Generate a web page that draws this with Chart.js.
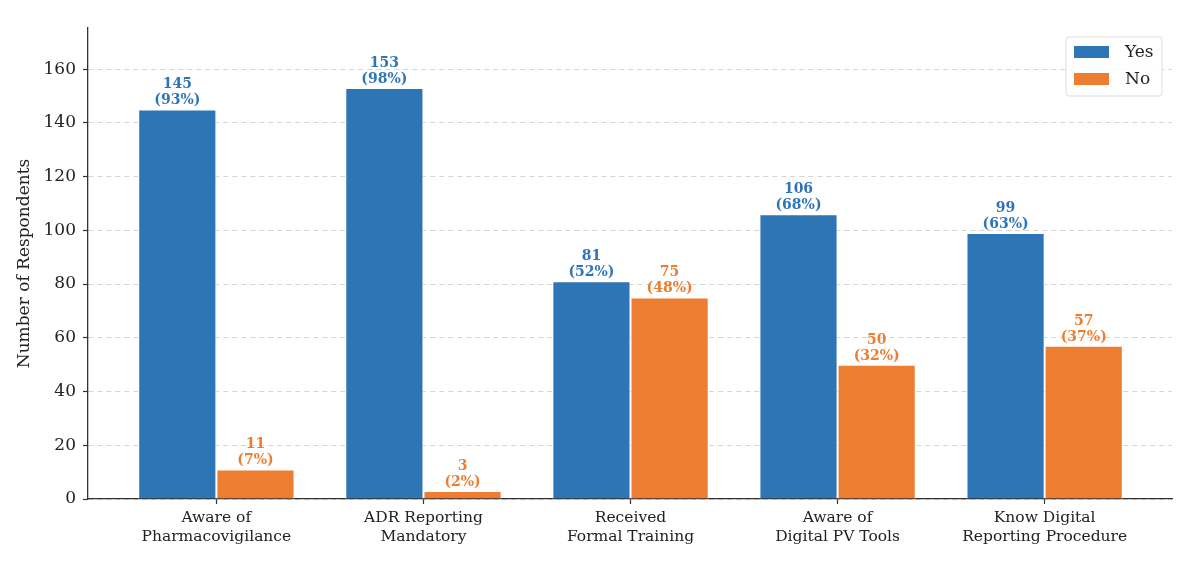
<!DOCTYPE html>
<html>
<head>
<meta charset="utf-8">
<script src="https://cdn.jsdelivr.net/npm/chart.js@4.4.0/dist/chart.umd.min.js"></script>
<style>
html,body{margin:0;padding:0;background:#fff;}
#wrap{width:1189px;height:561px;position:relative;}
</style>
</head>
<body>
<div id="wrap"><canvas id="c"></canvas></div>
<script>
const categories = [
  ["Aware of", "Pharmacovigilance"],
  ["ADR Reporting", "Mandatory"],
  ["Received", "Formal Training"],
  ["Aware of", "Digital PV Tools"],
  ["Know Digital", "Reporting Procedure"]
];
const yesValues = [145, 153, 81, 106, 99];
const noValues = [11, 3, 75, 50, 57];
const yesPct = [93, 98, 52, 68, 63];
const noPct = [7, 2, 48, 32, 37];
const yTicks = [0, 20, 40, 60, 80, 100, 120, 140, 160];

const BLUE = '#2e75b6';
const ORANGE = '#ed7d31';
const FONT = "'DejaVu Serif', 'Liberation Serif', serif";

const pctByDataset = [yesPct, noPct];

const labelPlugin = {
  id: 'barLabels',
  afterDatasetsDraw(chart) {
    const ctx = chart.ctx;
    ctx.save();
    ctx.font = "bold 14px " + FONT;
    ctx.textAlign = 'center';
    ctx.textBaseline = 'alphabetic';
    chart.data.datasets.forEach((ds, di) => {
      const meta = chart.getDatasetMeta(di);
      ctx.fillStyle = ds.backgroundColor;
      meta.data.forEach((el, i) => {
        const v = ds.data[i].y;
        const p = pctByDataset[di][i];
        ctx.fillText('(' + p + '%)', el.x, el.y - 5);
        ctx.fillText(String(v), el.x, el.y - 21);
      });
    });
    ctx.restore();
  }
};

const legendPlugin = {
  id: 'boxLegend',
  afterDraw(chart) {
    const ctx = chart.ctx;
    const ca = chart.chartArea;
    const w = 96, h = 59;
    const x = ca.right - 10 - w, y = ca.top + 9;
    ctx.save();
    ctx.beginPath();
    if (ctx.roundRect) ctx.roundRect(x, y, w, h, 3); else ctx.rect(x, y, w, h);
    ctx.fillStyle = 'rgba(255,255,255,0.85)';
    ctx.fill();
    ctx.strokeStyle = '#dddddd';
    ctx.lineWidth = 1;
    ctx.stroke();
    ctx.font = "17px " + FONT;
    ctx.textBaseline = 'middle';
    ctx.textAlign = 'left';
    chart.data.datasets.forEach((ds, di) => {
      const cy = y + 15 + di * 27;
      ctx.fillStyle = ds.backgroundColor;
      ctx.fillRect(x + 8, cy - 6, 35, 12);
      ctx.fillStyle = '#222';
      ctx.fillText(ds.label, x + 59, cy + 1);
    });
    ctx.restore();
  }
};

const mk = (arr) => arr.map((v, i) => ({x: i, y: v}));

new Chart(document.getElementById('c'), {
  type: 'bar',
  data: {
    datasets: [
      {label: 'Yes', data: mk(yesValues), backgroundColor: BLUE, borderColor: '#ffffff', borderWidth: 1, categoryPercentage: 0.755, barPercentage: 1.0},
      {label: 'No', data: mk(noValues), backgroundColor: ORANGE, borderColor: '#ffffff', borderWidth: 1, categoryPercentage: 0.755, barPercentage: 1.0}
    ]
  },
  options: {
    responsive: true,
    maintainAspectRatio: false,
    animation: false,
    layout: {padding: {left: 14, top: 28, right: 17, bottom: 0}},
    plugins: {legend: {display: false}, tooltip: {enabled: false}},
    scales: {
      x: {
        type: 'linear',
        min: -0.62,
        max: 4.615,
        offset: false,
        afterBuildTicks(scale) { scale.ticks = categories.map((c, i) => ({value: i})); },
        afterFit(scale) { scale.height = 62; },
        ticks: {
          callback: (v) => categories[v],
          font: {family: FONT, size: 15.5},
          color: '#222',
          padding: 5,
          maxRotation: 0,
          autoSkip: false
        },
        grid: {display: true, offset: false, drawOnChartArea: false, drawTicks: true, tickLength: 5, tickColor: '#333', tickWidth: 1.2},
        border: {display: true, color: '#333', width: 1.3}
      },
      y: {
        min: 0,
        max: 175.3,
        afterBuildTicks(scale) { scale.ticks = yTicks.map(v => ({value: v})); },
        afterFit(scale) { scale.width = 74; },
        ticks: {
          font: {family: FONT, size: 17},
          color: '#222',
          padding: 7
        },
        title: {
          display: true,
          text: 'Number of Respondents',
          font: {family: FONT, size: 17},
          color: '#222',
          padding: {top: 0, bottom: 4}
        },
        grid: {
          display: true,
          color: 'rgba(170,170,170,0.55)',
          lineWidth: 0.9,
          drawTicks: true,
          tickLength: 5,
          tickColor: '#333',
          tickWidth: 1.2,
          tickBorderDash: []
        },
        border: {display: true, color: '#333', width: 1.3, dash: [5, 4]}
      }
    }
  },
  plugins: [labelPlugin, legendPlugin]
});
</script>
</body>
</html>
